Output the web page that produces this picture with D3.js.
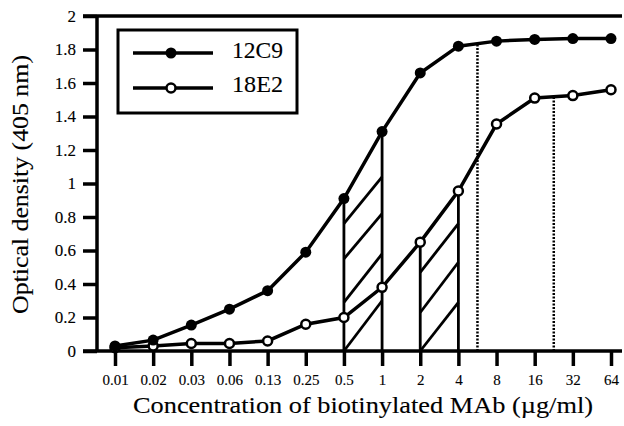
<html>
<head>
<meta charset="UTF-8"/>
<title>Optical density chart</title>
<script src="https://d3js.org/d3.v7.min.js"></script>
<style>
    body { margin: 0; background: white; }
    text { font-family: "Liberation Serif", "Times New Roman", serif; fill: black; stroke: black; stroke-width: 0.12; }
</style>
</head>
<body>
<script>
    // concentrations (ug/ml), tick labels on x
    var concLabels = ["0.01","0.02","0.03","0.06","0.13","0.25","0.5","1","2","4","8","16","32","64"];
    var yTicks = [0, 0.2, 0.4, 0.6, 0.8, 1, 1.2, 1.4, 1.6, 1.8, 2];

    var od12C9 = [0.03, 0.065, 0.155, 0.25, 0.36, 0.59, 0.91, 1.31, 1.66, 1.82, 1.85, 1.86, 1.865, 1.865];
    var od18E2 = [0.02, 0.03, 0.045, 0.045, 0.06, 0.16, 0.20, 0.38, 0.65, 0.955, 1.355, 1.51, 1.525, 1.56];

    // hatch lines inside the shaded bands: [value at left edge, value at right edge]
    var hatch12C9 = [[0, 0.30], [0.29, 0.58], [0.55, 0.82], [0.76, 1.04]];
    var hatch18E2 = [[0, 0.29], [0.23, 0.53], [0.47, 0.76]];
    // dotted markers at fractional index positions
    var dotted = [{pos: 9.5, series: "12C9"}, {pos: 11.5, series: "18E2"}];

    var w = 624, h = 426;

    var svg = d3.select("body").append("svg")
        .attr("width", w)
        .attr("height", h);

    var xScale = d3.scaleLinear()
        .domain([0, concLabels.length - 1])
        .range([115, 611]);

    var yScale = d3.scaleLinear()
        .domain([0, 2])
        .range([351, 16]);

    function valueAt(arr, pos) {
        var i = Math.floor(pos), f = pos - i;
        if (f === 0) return arr[i];
        return arr[i] + (arr[i + 1] - arr[i]) * f;
    }

    // Y axis
    var yAxis = d3.axisLeft(yScale)
        .tickValues(yTicks)
        .tickFormat(function(d) { return d3.format("~g")(d); })
        .tickSize(14)
        .tickSizeOuter(0)
        .tickPadding(7);
    var gy = svg.append("g")
        .attr("transform", "translate(97,0)")
        .call(yAxis);
    gy.select(".domain").remove();
    gy.selectAll(".tick line").attr("stroke", "black").attr("stroke-width", 3.5);
    gy.selectAll(".tick text")
        .attr("font-size", 17)
        .attr("font-family", "Liberation Serif, serif");

    svg.append("line")
        .attr("x1", 97).attr("x2", 97)
        .attr("y1", yScale(2)).attr("y2", yScale(0))
        .attr("stroke", "black").attr("stroke-width", 3.5);

    // X axis
    var xAxis = d3.axisBottom(xScale)
        .tickValues(d3.range(concLabels.length))
        .tickFormat(function(d) { return concLabels[d]; })
        .tickSize(15)
        .tickSizeOuter(0)
        .tickPadding(8);
    var gx = svg.append("g")
        .attr("transform", "translate(0," + yScale(0) + ")")
        .call(xAxis);
    gx.select(".domain").remove();
    gx.selectAll(".tick line").attr("stroke", "black").attr("stroke-width", 3.5);
    gx.selectAll(".tick text")
        .attr("font-size", 15)
        .attr("font-family", "Liberation Serif, serif");

    svg.append("line")
        .attr("x1", 83).attr("x2", 622)
        .attr("y1", yScale(0)).attr("y2", yScale(0))
        .attr("stroke", "black").attr("stroke-width", 3.5);

    // top frame line
    svg.append("line")
        .attr("x1", 83).attr("x2", 622)
        .attr("y1", yScale(2)).attr("y2", yScale(2))
        .attr("stroke", "black").attr("stroke-width", 3.5);

    // verticals and hatching
    function drawHatch(arr, i0, i1, lines) {
        [i0, i1].forEach(function(i) {
            svg.append("line")
                .attr("x1", xScale(i)).attr("x2", xScale(i))
                .attr("y1", yScale(0)).attr("y2", yScale(arr[i]))
                .attr("stroke", "black").attr("stroke-width", 2.8);
        });
        svg.selectAll(null)
            .data(lines)
            .enter()
            .append("line")
            .attr("x1", xScale(i0)).attr("x2", xScale(i1))
            .attr("y1", function(d) { return yScale(d[0]); })
            .attr("y2", function(d) { return yScale(d[1]); })
            .attr("stroke", "black").attr("stroke-width", 2.8);
    }
    drawHatch(od12C9, 6, 7, hatch12C9);
    drawHatch(od18E2, 8, 9, hatch18E2);

    svg.selectAll(".dotted")
        .data(dotted)
        .enter()
        .append("line")
        .attr("x1", function(d) { return xScale(d.pos); })
        .attr("x2", function(d) { return xScale(d.pos); })
        .attr("y1", yScale(0))
        .attr("y2", function(d) {
            return yScale(valueAt(d.series === "12C9" ? od12C9 : od18E2, d.pos));
        })
        .attr("stroke", "black")
        .attr("stroke-width", 2.5)
        .attr("stroke-dasharray", "2,1.5");

    // series lines
    var line = d3.line()
        .x(function(d, i) { return xScale(i); })
        .y(function(d) { return yScale(d); });

    svg.append("path").datum(od18E2)
        .attr("d", line).attr("fill", "none")
        .attr("stroke", "black").attr("stroke-width", 3.5);
    svg.append("path").datum(od12C9)
        .attr("d", line).attr("fill", "none")
        .attr("stroke", "black").attr("stroke-width", 3.5);

    svg.selectAll(".p18")
        .data(od18E2)
        .enter()
        .append("circle")
        .attr("cx", function(d, i) { return xScale(i); })
        .attr("cy", function(d) { return yScale(d); })
        .attr("r", 4.5)
        .attr("fill", "white")
        .attr("stroke", "black")
        .attr("stroke-width", 2.5);

    svg.selectAll(".p12")
        .data(od12C9)
        .enter()
        .append("circle")
        .attr("cx", function(d, i) { return xScale(i); })
        .attr("cy", function(d) { return yScale(d); })
        .attr("r", 5.5)
        .attr("fill", "black");

    // legend
    svg.append("rect")
        .attr("x", 118).attr("y", 30)
        .attr("width", 179).attr("height", 83)
        .attr("fill", "white")
        .attr("stroke", "black").attr("stroke-width", 3);

    var legend = [{name: "12C9", y: 53, ty: 58, filled: true}, {name: "18E2", y: 88, ty: 92, filled: false}];
    legend.forEach(function(d) {
        svg.append("line")
            .attr("x1", 133).attr("x2", 213)
            .attr("y1", d.y).attr("y2", d.y)
            .attr("stroke", "black").attr("stroke-width", 3.5);
        svg.append("circle")
            .attr("cx", 171).attr("cy", d.y)
            .attr("r", d.filled ? 5.5 : 4.5)
            .attr("fill", d.filled ? "black" : "white")
            .attr("stroke", "black")
            .attr("stroke-width", d.filled ? 0 : 2.5);
        svg.append("text")
            .attr("x", 232).attr("y", d.ty)
            .attr("font-size", 23)
            .attr("textLength", 51)
            .attr("lengthAdjust", "spacingAndGlyphs")
            .text(d.name);
    });

    // axis titles
    svg.append("text")
        .attr("text-anchor", "middle")
        .attr("x", 363)
        .attr("y", 413)
        .attr("font-size", 23)
        .attr("textLength", 460)
        .attr("lengthAdjust", "spacingAndGlyphs")
        .text("Concentration of biotinylated MAb (\u00B5g/ml)");

    svg.append("text")
        .attr("text-anchor", "middle")
        .attr("transform", "rotate(-90)")
        .attr("x", -184.5)
        .attr("y", 28)
        .attr("font-size", 23)
        .attr("textLength", 259)
        .attr("lengthAdjust", "spacingAndGlyphs")
        .text("Optical density (405 nm)");
</script>
</body>
</html>
